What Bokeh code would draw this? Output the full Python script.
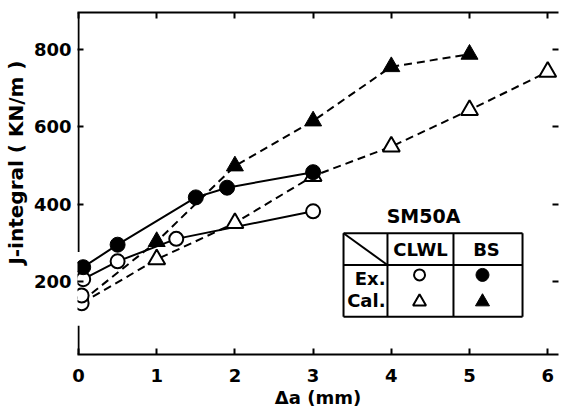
from bokeh.plotting import figure
from bokeh.models import LinearAxis, FixedTicker, Label, Range1d
from bokeh.embed import file_html
from bokeh.resources import INLINE

# ---------------- data ----------------
ex_clwl_x = [0.04, 0.04, 0.06, 0.5, 1.25, 3.0]
ex_clwl_y = [145, 165, 207, 253, 311, 382]
ex_bs_x = [0.06, 0.5, 1.5, 1.9, 3.0]
ex_bs_y = [238, 296, 418, 443, 483]
cal_clwl_x = [0.04, 1, 2, 3, 4, 5, 6]
cal_clwl_y = [145, 258, 352, 473, 549, 643, 742]
cal_bs_x = [0.04, 1, 2, 3, 4, 5]
cal_bs_y = [150, 304, 499, 615, 755, 787]
x_ticks = [0, 1, 2, 3, 4, 5, 6]
y_ticks = [200, 400, 600, 800]
x_label = "Δa (mm)"
y_label = "J-integral ( KN/m )"
legend_title = "SM50A"
col_names = ["CLWL", "BS"]
row_names = ["Ex.", "Cal."]

FONT = "DejaVu Sans"
X0, X1 = -0.0128, 6.138
Y0, Y1 = 12.8, 894.8

p = figure(width=559, height=410, output_backend="svg", toolbar_location=None,
           x_range=Range1d(X0, X1), y_range=Range1d(Y0, Y1),
           min_border_left=77, min_border_right=1, min_border_top=12, min_border_bottom=54,
           x_axis_location=None, y_axis_location=None)
p.outline_line_color = None
p.grid.visible = False
p.background_fill_color = "white"
p.border_fill_color = "white"


def style(ax, ticks, labels=True):
    ax.ticker = FixedTicker(ticks=ticks)
    ax.minor_tick_line_color = None
    ax.major_tick_line_width = 2
    ax.axis_line_width = 2
    ax.major_tick_out = 0
    ax.major_tick_in = 6
    ax.major_label_text_font = FONT
    ax.major_label_text_font_style = "bold"
    ax.major_label_text_font_size = "18px"
    ax.major_label_text_color = "black"
    ax.axis_label_text_font = FONT
    ax.axis_label_text_font_size = "18px"
    ax.axis_label_text_font_style = "bold"
    ax.axis_label_text_color = "black"
    if not labels:
        ax.major_label_overrides = {t: "" for t in ticks}
        ax.major_label_text_font_size = "1px"
        ax.major_label_standoff = 0


xb = LinearAxis(axis_label=x_label)
xt = LinearAxis()
yl = LinearAxis(axis_label="\u00a0" * 6 + y_label)
yr = LinearAxis()
style(xb, x_ticks)
style(xt, x_ticks, labels=False)
style(yl, y_ticks)
style(yr, y_ticks, labels=False)
xb.major_label_standoff = 14
xb.axis_label_standoff = 2
yl.axis_line_color = None
yl.major_label_standoff = 6
yl.axis_label_standoff = 3
yl.axis_label_text_font_size = "20px"
yr.axis_line_color = None
p.add_layout(xb, "below")
p.add_layout(xt, "above")
p.add_layout(yl, "left")
p.add_layout(yr, "right")

# broken left spine
px = 1.0 / 78.2
p.segment(x0=[X0 + px, X0 + px], y0=[277, Y0], x1=[X0 + px, X0 + px], y1=[Y1, 87],
          line_color="black", line_width=2)

DASH = "8 5"
# calculated (dashed)
p.line(cal_clwl_x, cal_clwl_y, line_color="black", line_width=2, line_dash=DASH)
p.line(cal_bs_x, cal_bs_y, line_color="black", line_width=2, line_dash=DASH)
# experimental (solid)
p.line(ex_clwl_x[2:], ex_clwl_y[2:], line_color="black", line_width=2)
p.line(ex_bs_x, ex_bs_y, line_color="black", line_width=2)

p.scatter(cal_clwl_x[1:], cal_clwl_y[1:], marker="triangle", size=17,
          fill_color="white", line_color="black", line_width=2)
p.scatter(cal_bs_x[1:], cal_bs_y[1:], marker="triangle", size=17,
          fill_color="black", line_color="black", line_width=1)
p.scatter(ex_clwl_x, ex_clwl_y, marker="circle", size=14,
          fill_color="white", line_color="black", line_width=2)
p.scatter(ex_bs_x, ex_bs_y, marker="circle", size=15,
          fill_color="black", line_color="black", line_width=1)

# ---------------- legend table ----------------
L, C1, C2, R = 3.389, 3.951, 4.795, 5.678
T, M, B = 325.6, 243.6, 110.3
p.segment(x0=[L, L, L, R, C1, C2, L, L], y0=[T, B, T, T, T, T, M, T],
          x1=[R, R, L, R, C1, C2, R, C1], y1=[T, B, B, B, B, B, M, M],
          line_color="black", line_width=2)


def lab(x, y, t, align="center", size="18px"):
    p.add_layout(Label(x=x, y=y, text=t, text_align=align, text_baseline="middle",
                       text_font=FONT, text_font_size=size, text_font_style="bold",
                       text_color="black"))


lab(4.412, 369, legend_title, size="19px")
lab(4.373, 284.6, col_names[0])
lab(5.217, 284.6, col_names[1])
lab(3.926, 207.7, row_names[0], align="right")
lab(3.926, 151.3, row_names[1], align="right")
p.scatter([4.361], [218], marker="circle", size=11, fill_color="white", line_color="black", line_width=2)
p.scatter([5.166], [218], marker="circle", size=13, fill_color="black", line_color="black")
p.scatter([4.361], [148.7], marker="triangle", size=13, fill_color="white", line_color="black", line_width=2)
p.scatter([5.166], [148.7], marker="triangle", size=14, fill_color="black", line_color="black")

open("out.html", "w").write(file_html(p, INLINE))
